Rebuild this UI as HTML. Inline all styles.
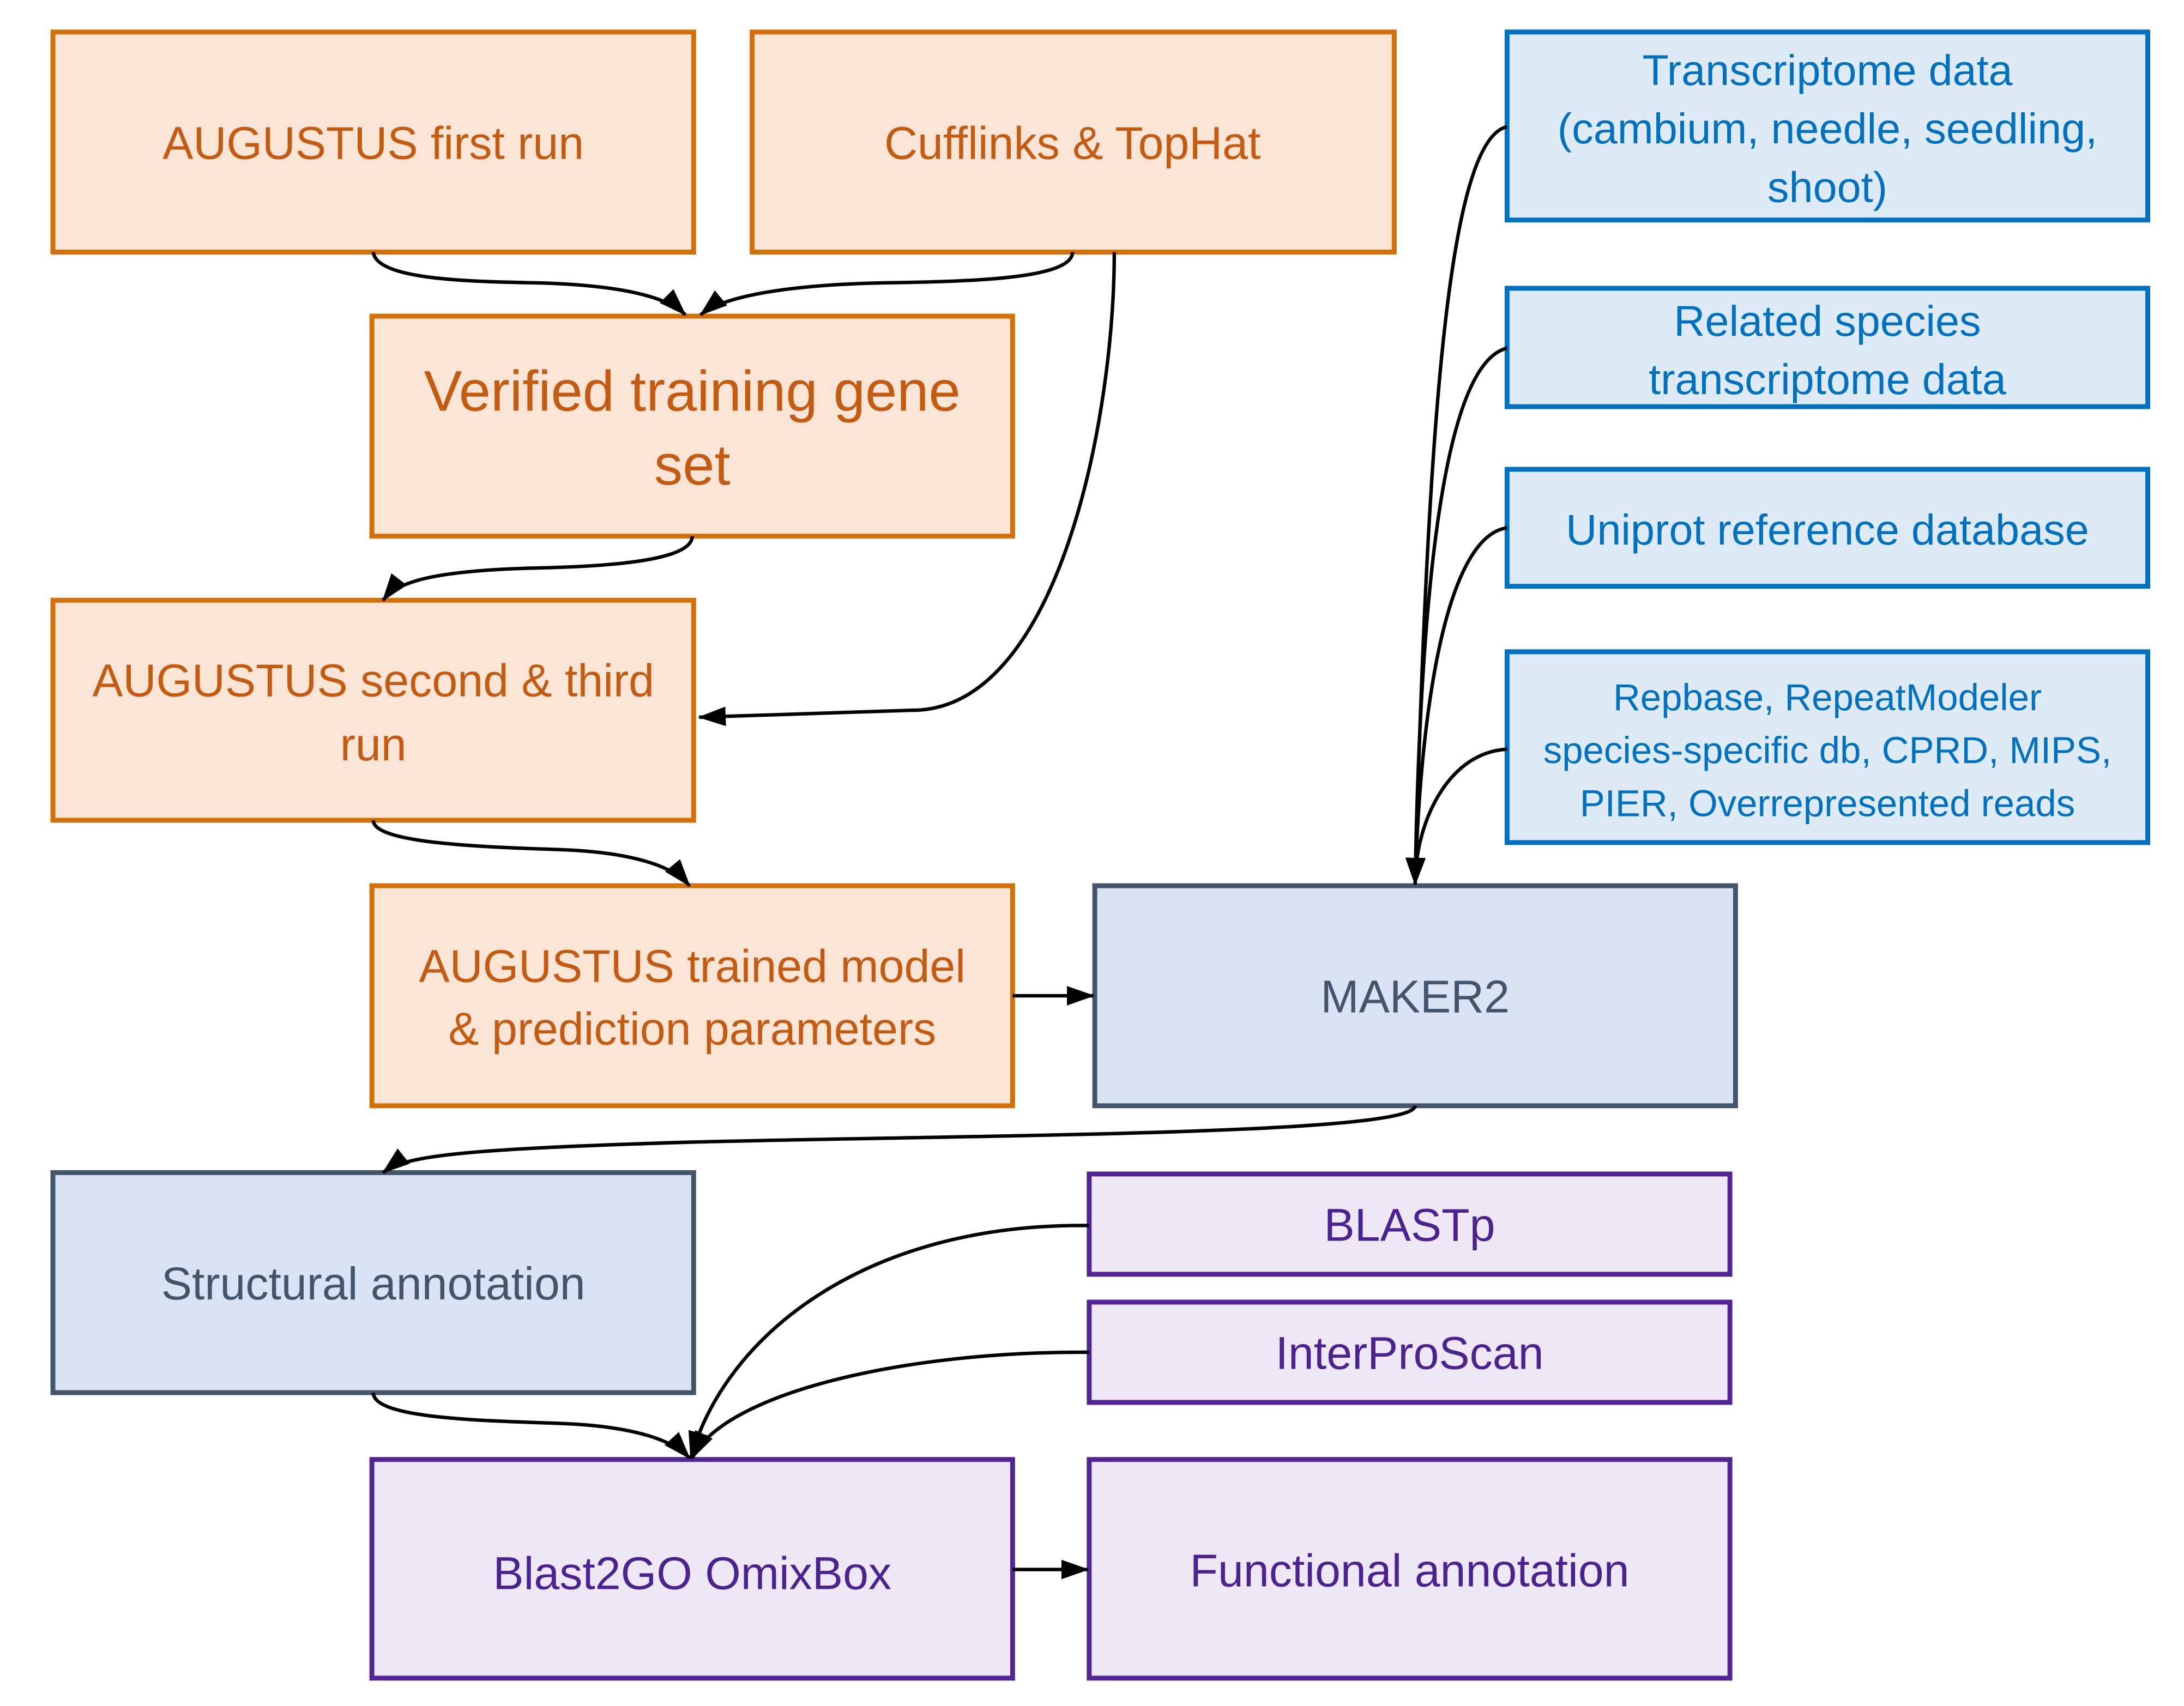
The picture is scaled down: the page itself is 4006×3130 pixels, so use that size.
<!DOCTYPE html>
<html><head><meta charset="utf-8"><style>
html,body{margin:0;padding:0;background:#fff;}
svg{display:block;}
text{font-family:"Liberation Sans",sans-serif;text-anchor:middle;}
</style></head><body>
<svg width="4006" height="3130" viewBox="0 0 1568 1225" preserveAspectRatio="none" xmlns="http://www.w3.org/2000/svg">
<defs>
<marker id="a" markerUnits="userSpaceOnUse" markerWidth="20" markerHeight="14" refX="19" refY="7" orient="auto">
<path d="M0,0 L20,7 L0,14 z" fill="#000"/></marker>
</defs>
<g stroke-width="3.5">
<g fill="#FBE5D6" stroke="#D4700A">
<rect x="38" y="23" width="460" height="158"/>
<rect x="540" y="23" width="461" height="158"/>
<rect x="267" y="227" width="460" height="158"/>
<rect x="38" y="431" width="460" height="158"/>
<rect x="267" y="636" width="460" height="158"/>
</g>
<g fill="#DAE3F3" stroke="#44546A">
<rect x="786" y="636" width="460" height="158"/>
<rect x="38" y="842" width="460" height="158"/>
</g>
<g fill="#EEE8F6" stroke="#522594">
<rect x="267" y="1048" width="460" height="157"/>
<rect x="782" y="1048" width="460" height="157"/>
<rect x="782" y="843" width="460" height="72"/>
<rect x="782" y="935" width="460" height="72"/>
</g>
<g fill="#DEEBF7" stroke="#0070C0">
<rect x="1082" y="23" width="460" height="135"/>
<rect x="1082" y="207" width="460" height="85"/>
<rect x="1082" y="337" width="460" height="84"/>
<rect x="1082" y="468" width="460" height="137"/>
</g>
</g>
<g fill="none" stroke="#000" stroke-width="2.5" marker-end="url(#a)">
<path d="M268,181 C270,200 330,202 380,203 C440,204 478,212 492,226"/>
<path d="M770,181 C770,200 700,202 640,203 C570,204 520,212 503,226"/>
<path d="M800,181 C800,300 760,510 655,510 L502,515"/>
<path d="M497,385 C497,405 420,407 380,408 C310,410 285,418 275,431"/>
<path d="M268,589 C268,605 340,608 400,610 C460,612 485,624 495,636"/>
<path d="M727,715 L785,715"/>
<path d="M1016,794 C1016,815 700,815 500,820 C330,825 290,830 275,842"/>
<path d="M268,1000 C268,1018 340,1020 400,1022 C460,1024 485,1036 495,1047"/>
<path d="M782,880 C620,878 520,960 496,1047"/>
<path d="M782,971 C650,970 520,1000 497,1047"/>
<path d="M727,1127 L781,1127"/>
<path d="M1082,91 C1040,100 1025,300 1016,635"/>
<path d="M1082,250 C1040,260 1020,400 1016,635"/>
<path d="M1082,379 C1040,385 1020,500 1016,635"/>
<path d="M1082,538 C1040,540 1016,590 1016,635"/>
</g>
<g fill="#C55A11" font-size="33">
<text x="268" y="114">AUGUSTUS first run</text>
<text x="770" y="114">Cufflinks &amp; TopHat</text>
<text x="497" y="295" font-size="41">Verified training gene</text>
<text x="497" y="348" font-size="41">set</text>
<text x="268" y="500">AUGUSTUS second &amp; third</text>
<text x="268" y="546">run</text>
<text x="497" y="705">AUGUSTUS trained model</text>
<text x="497" y="750">&amp; prediction parameters</text>
</g>
<g fill="#44546A" font-size="33">
<text x="1016" y="727">MAKER2</text>
<text x="268" y="933">Structural annotation</text>
</g>
<g fill="#4B2390" font-size="33">
<text x="497" y="1141">Blast2GO OmixBox</text>
<text x="1012" y="1139">Functional annotation</text>
<text x="1012" y="891">BLASTp</text>
<text x="1012" y="983">InterProScan</text>
</g>
<g fill="#0070C0" font-size="31">
<text x="1312" y="61">Transcriptome data</text>
<text x="1312" y="103">(cambium, needle, seedling,</text>
<text x="1312" y="145">shoot)</text>
<text x="1312" y="241">Related species</text>
<text x="1312" y="283">transcriptome data</text>
<text x="1312" y="391">Uniprot reference database</text>
<text x="1312" y="510" font-size="27">Repbase, RepeatModeler</text>
<text x="1312" y="548" font-size="27">species-specific db, CPRD, MIPS,</text>
<text x="1312" y="586" font-size="27">PIER, Overrepresented reads</text>
</g>
</svg>
</body></html>
